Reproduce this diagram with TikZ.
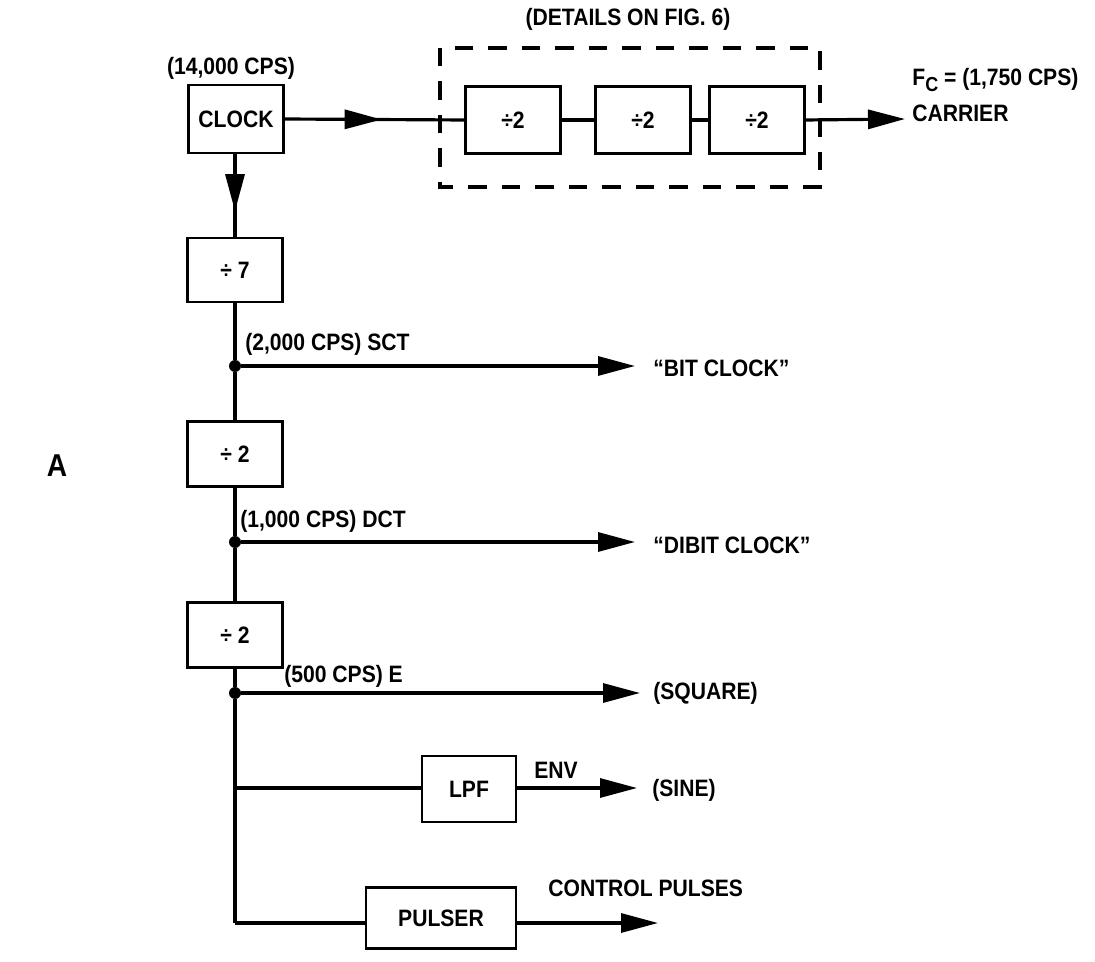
\documentclass[tikz,border=0pt]{standalone}
\usepackage{fontspec}
\setmainfont{Liberation Sans}[FakeStretch=0.89]
\usetikzlibrary{arrows.meta,calc,decorations.markings}
\tikzset{
  sig line/.style={line width=1.8pt},
  blk/.style={
    draw=black,
    line width=1.4pt,
    minimum width=1.9cm,
    minimum height=1.3cm,
    inner sep=0pt,
    font=\bfseries\fontsize{13.5}{15}\selectfont
  },
  lbl/.style={inner sep=0pt,font=\bfseries\fontsize{13.5}{15}\selectfont},
  end arrow/.style={sig line,-{Triangle[length=0.74cm,width=0.38cm]}},
  mid arrow/.style={sig line,postaction={decorate},
    decoration={markings,
      mark=at position #1 with {\arrow{Triangle[length=0.74cm,width=0.38cm]}}}},
  tap/.style={circle,fill=black,inner sep=0pt,minimum size=0.24cm},
  detail frame/.style={line width=2pt,dash pattern=on 0.37cm off 0.3cm}
}

\begin{document}
\begin{tikzpicture}[x=0.02cm,y=-0.02cm]
  \useasboundingbox (0,0) rectangle (1095,962);

  % clock and carrier chain
  \node[blk,minimum height=1.36cm] (clock) at (236,119) {CLOCK};
  \node[lbl] (clockf) at (231,68) {(14,000 CPS)};
  \node[blk,minimum height=1.34cm] (fa) at (513,120) {÷2};
  \node[blk,minimum height=1.34cm] (fb) at (643,120) {÷2};
  \node[blk,minimum height=1.34cm] (fc) at (757,120) {÷2};
  \draw[detail frame] (440,48) rectangle (820,187);
  \node[lbl] (details) at (628,19) {(DETAILS ON FIG. 6)};
  \coordinate (carrier) at (905,119);
  \node[lbl,anchor=west] (fcarr) at (912,80) {F\raisebox{-0.55ex}{\fontsize{11.5}{13}\selectfont C} = (1,750 CPS)};
  \node[lbl,anchor=west] (carrtxt) at (912,113) {CARRIER};

  \draw[mid arrow=0.54] (clock.east) -- (fa.west);
  \draw[sig line] (fa) -- (fb);
  \draw[sig line] (fb) -- (fc);
  \draw[end arrow] (fc.east) -- (carrier);

  % divider column
  \node[blk,minimum height=1.28cm] (div7) at (235,270) {÷ 7};
  \node[blk] (div2a) at (235,454) {÷ 2};
  \node[blk] (div2b) at (235,635) {÷ 2};
  \node[tap] (j1) at (235,366) {};
  \node[tap] (j2) at (235,542) {};
  \node[tap] (j3) at (235,693) {};
  \coordinate (j4) at (235,788);
  \coordinate (j5) at (235,923);

  \draw[mid arrow=0.69] (clock.south -| div7) -- (div7.north);
  \draw[sig line] (div7) -- (j1) -- (div2a);
  \draw[sig line] (div2a) -- (j2) -- (div2b);
  \draw[sig line] (div2b) -- (j3) -- (j4) -- (j5);

  % outputs
  \coordinate (bit) at (635,366);
  \coordinate (dibit) at (635,542);
  \coordinate (square) at (640,693);
  \coordinate (sine) at (637,788);
  \coordinate (ctrl) at (658,923);
  \node[blk,minimum width=1.88cm,minimum height=1.32cm] (lpf) at (469,789) {LPF};
  \node[blk,minimum width=3cm,minimum height=1.22cm] (pulser) at (441,918) {PULSER};

  \draw[end arrow] (j1) -- (bit);
  \draw[end arrow] (j2) -- (dibit);
  \draw[end arrow] (j3) -- (square);
  \draw[sig line] (j4) -- (j4 -| lpf.west);
  \draw[end arrow] (lpf.east |- sine) -- (sine);
  \draw[sig line] (j5) -- (j5 -| pulser.west);
  \draw[end arrow] (pulser.east |- ctrl) -- (ctrl);

  \node[lbl,anchor=west] (sct) at (245,344) {(2,000 CPS) SCT};
  \node[lbl,anchor=west] (bittxt) at (653,368) {“BIT CLOCK”};
  \node[lbl,anchor=west] (dct) at (240,521) {(1,000 CPS) DCT};
  \node[lbl,anchor=west] (dibittxt) at (653,545) {“DIBIT CLOCK”};
  \node[lbl,anchor=west] (etxt) at (284,676) {(500 CPS) E};
  \node[lbl,anchor=west] (sqtxt) at (653,693) {(SQUARE)};
  \node[lbl,anchor=west] (env) at (534,770) {ENV};
  \node[lbl,anchor=west] (sinetxt) at (652,790) {(SINE)};
  \node[lbl,anchor=west] (ctrltxt) at (548,888) {CONTROL PULSES};
  \node[lbl,font=\bfseries\fontsize{18}{20}\selectfont] (mark) at (57,466) {A};
\end{tikzpicture}
\end{document}
